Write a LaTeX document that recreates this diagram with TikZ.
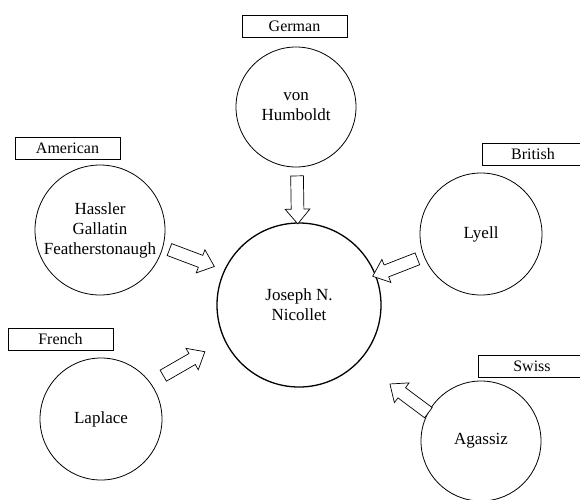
\documentclass[tikz,border=0pt]{standalone}
\usepackage{fontspec}
\setmainfont{Liberation Serif}
\usetikzlibrary{shapes.arrows}
\begin{document}
\begin{tikzpicture}[x=1pt,y=-1pt,
  txt/.style={font=\fontsize{16pt}{19pt}\selectfont, align=center},
  person/.style={font=\fontsize{17pt}{20pt}\selectfont, align=center, circle, draw, line width=0.8pt, inner sep=0pt},
  tag/.style={txt, draw, line width=0.6pt, minimum height=22pt, inner sep=0pt},
  blk/.style={single arrow, draw, fill=white, line width=0.7pt, inner sep=0pt,
    text height=12pt, text depth=0pt, text width=0pt, minimum height=48pt,
    single arrow head extend=6pt, single arrow tip angle=80,
    sloped, allow upside down}]
\useasboundingbox (0,0) rectangle (580,499);
\clip (0,0) rectangle (580,499);
% people
\node[person, line width=1.3pt, minimum size=164pt] (nic) at (299,305) {Joseph N.\\Nicollet};
\node[person, minimum size=120pt] (hum) at (296,107) {von\\Humboldt};
\node[person, minimum size=130pt] (ame) at (100,230) {Hassler\\Gallatin\\Featherstonaugh};
\node[person, minimum size=122pt] (lye) at (481,234) {Lyell};
\node[person, minimum size=122pt] (lap) at (101,419) {Laplace};
\node[person, minimum size=120pt] (aga) at (481,441) {Agassiz};
% nationality tags
\node[tag, minimum width=105pt] (tger) at (294.5,26) {German};
\node[tag, minimum width=105pt] (tame) at (67.5,148.5) {American};
\node[tag, minimum width=102pt] (tbri) at (533,154) {British};
\node[tag, minimum width=105pt] (tfre) at (60.5,339) {French};
\node[tag, minimum width=108pt] (tswi) at (532,366.5) {Swiss};
% influence arrows
\path (hum.center) -- (nic.center) node[blk, pos=0.45] {};
\path ([yshift=6.6pt]ame.center) -- ([yshift=6.6pt]nic.center) node[blk, pos=0.444] {};
\path (lye.center) -- (nic.center) node[blk, pos=0.453] {};
\path ([yshift=7.5pt]lap.center) -- ([yshift=7.5pt]nic.center) node[blk, pos=0.403] {};
\path ([yshift=-11pt]aga.center) -- ([yshift=-11pt]nic.center) node[blk, pos=0.378] {};
\end{tikzpicture}
\end{document}
